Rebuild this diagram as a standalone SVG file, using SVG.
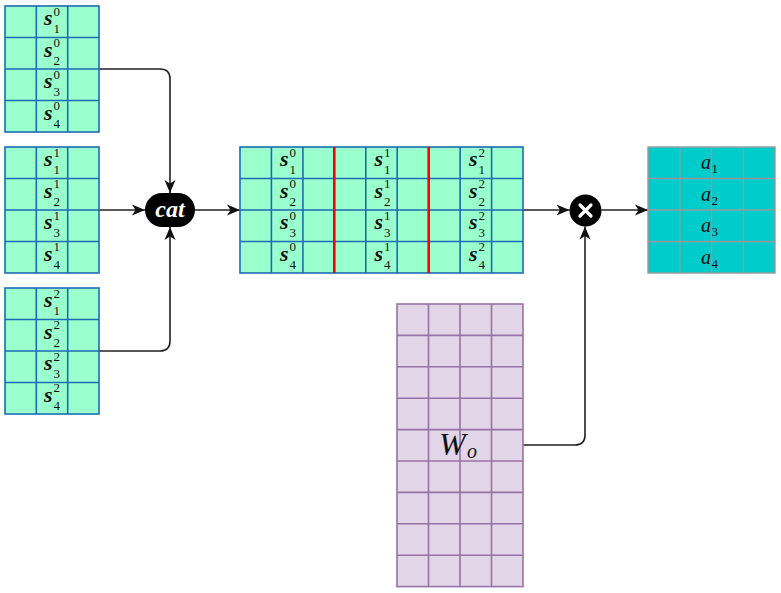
<svg xmlns="http://www.w3.org/2000/svg" width="781" height="593" viewBox="0 0 781 593">
<style>
.gm{fill:#99FFCC;stroke:#1C6BB4;stroke-width:1.6}
.gl{fill:none;stroke:#1C6BB4;stroke-width:1.6}
.s{font-family:"Liberation Serif",serif;font-style:italic;font-weight:bold;font-size:22px;fill:#111}
.sc{font-style:normal;font-weight:normal;font-size:13px}
.a{font-family:"Liberation Serif",serif;font-style:italic;font-size:20px;fill:#111}
.ac{font-style:normal;font-size:13px}
.cm{fill:#00CCCC;stroke:#999999;stroke-width:1.4}
.cl{fill:none;stroke:#999999;stroke-width:1.4}
.pm{fill:#E1D5E7;stroke:#9673A6;stroke-width:1.6}
.pl{fill:none;stroke:#9673A6;stroke-width:1.6}
.red{stroke:#FF0000;stroke-width:2.6}
.edge{fill:none;stroke:#222;stroke-width:1.6}
</style>
<defs>
<marker id="arr" markerUnits="userSpaceOnUse" markerWidth="14" markerHeight="12" refX="13" refY="6" orient="auto">
<path d="M0,0.5 L13,6 L0,11.5 L3.5,6 Z" fill="#111"/>
</marker>
</defs>

<g id="connectors">
<path class="edge" marker-end="url(#arr)" d="M99,69 H160 Q170,69 170,79 V193"/>
<path class="edge" marker-end="url(#arr)" d="M99,210 H145"/>
<path class="edge" marker-end="url(#arr)" d="M99,351 H160 Q170,351 170,341 V227"/>
<path class="edge" marker-end="url(#arr)" d="M195,210 H240"/>
<path class="edge" marker-end="url(#arr)" d="M523,210 H569.5"/>
<path class="edge" marker-end="url(#arr)" d="M523,445 H575 Q585,445 585,435 V226.5"/>
<path class="edge" marker-end="url(#arr)" d="M601.5,210 H648"/>
</g>

<g id="s0">
<rect class="gm" x="5" y="6" width="94" height="126"/>
<path class="gl" d="M36.3,6V132M67.7,6V132M5,37.5H99M5,69H99M5,100.5H99"/>
<text class="s"><tspan x="44" y="25">s</tspan><tspan class="sc" x="53.5" y="15.5">0</tspan><tspan class="sc" x="53.5" y="33">1</tspan></text>
<text class="s"><tspan x="44" y="56.5">s</tspan><tspan class="sc" x="53.5" y="47">0</tspan><tspan class="sc" x="53.5" y="64.5">2</tspan></text>
<text class="s"><tspan x="44" y="88">s</tspan><tspan class="sc" x="53.5" y="78.5">0</tspan><tspan class="sc" x="53.5" y="96">3</tspan></text>
<text class="s"><tspan x="44" y="119.5">s</tspan><tspan class="sc" x="53.5" y="110">0</tspan><tspan class="sc" x="53.5" y="127.5">4</tspan></text>
</g>

<g id="s1">
<rect class="gm" x="5" y="147" width="94" height="126"/>
<path class="gl" d="M36.3,147V273M67.7,147V273M5,178.5H99M5,210H99M5,241.5H99"/>
<text class="s"><tspan x="44" y="166">s</tspan><tspan class="sc" x="53.5" y="156.5">1</tspan><tspan class="sc" x="53.5" y="174">1</tspan></text>
<text class="s"><tspan x="44" y="197.5">s</tspan><tspan class="sc" x="53.5" y="188">1</tspan><tspan class="sc" x="53.5" y="205.5">2</tspan></text>
<text class="s"><tspan x="44" y="229">s</tspan><tspan class="sc" x="53.5" y="219.5">1</tspan><tspan class="sc" x="53.5" y="237">3</tspan></text>
<text class="s"><tspan x="44" y="260.5">s</tspan><tspan class="sc" x="53.5" y="251">1</tspan><tspan class="sc" x="53.5" y="268.5">4</tspan></text>
</g>

<g id="s2">
<rect class="gm" x="5" y="288" width="94" height="126"/>
<path class="gl" d="M36.3,288V414M67.7,288V414M5,319.5H99M5,351H99M5,382.5H99"/>
<text class="s"><tspan x="44" y="307">s</tspan><tspan class="sc" x="53.5" y="297.5">2</tspan><tspan class="sc" x="53.5" y="315">1</tspan></text>
<text class="s"><tspan x="44" y="338.5">s</tspan><tspan class="sc" x="53.5" y="329">2</tspan><tspan class="sc" x="53.5" y="346.5">2</tspan></text>
<text class="s"><tspan x="44" y="370">s</tspan><tspan class="sc" x="53.5" y="360.5">2</tspan><tspan class="sc" x="53.5" y="378">3</tspan></text>
<text class="s"><tspan x="44" y="401.5">s</tspan><tspan class="sc" x="53.5" y="392">2</tspan><tspan class="sc" x="53.5" y="409.5">4</tspan></text>
</g>

<g id="cat">
<rect x="145" y="193" width="50" height="34" rx="17" ry="17" fill="#000"/>
<text x="170" y="216.5" text-anchor="middle" font-family="Liberation Serif, serif" font-style="italic" font-weight="bold" font-size="24" fill="#fff">cat</text>
</g>

<g id="concat">
<rect class="gm" x="240" y="147" width="283" height="126"/>
<path class="gl" d="M271.4,147V273M302.9,147V273M365.8,147V273M397.2,147V273M460.1,147V273M491.6,147V273M240,178.5H523M240,210H523M240,241.5H523"/>
<path class="red" d="M334.3,147V273M428.7,147V273"/>
<text class="s"><tspan x="280" y="166">s</tspan><tspan class="sc" x="289.5" y="156.5">0</tspan><tspan class="sc" x="289.5" y="174">1</tspan></text>
<text class="s"><tspan x="280" y="197.5">s</tspan><tspan class="sc" x="289.5" y="188">0</tspan><tspan class="sc" x="289.5" y="205.5">2</tspan></text>
<text class="s"><tspan x="280" y="229">s</tspan><tspan class="sc" x="289.5" y="219.5">0</tspan><tspan class="sc" x="289.5" y="237">3</tspan></text>
<text class="s"><tspan x="280" y="260.5">s</tspan><tspan class="sc" x="289.5" y="251">0</tspan><tspan class="sc" x="289.5" y="268.5">4</tspan></text>
<text class="s"><tspan x="374.5" y="166">s</tspan><tspan class="sc" x="384" y="156.5">1</tspan><tspan class="sc" x="384" y="174">1</tspan></text>
<text class="s"><tspan x="374.5" y="197.5">s</tspan><tspan class="sc" x="384" y="188">1</tspan><tspan class="sc" x="384" y="205.5">2</tspan></text>
<text class="s"><tspan x="374.5" y="229">s</tspan><tspan class="sc" x="384" y="219.5">1</tspan><tspan class="sc" x="384" y="237">3</tspan></text>
<text class="s"><tspan x="374.5" y="260.5">s</tspan><tspan class="sc" x="384" y="251">1</tspan><tspan class="sc" x="384" y="268.5">4</tspan></text>
<text class="s"><tspan x="469" y="166">s</tspan><tspan class="sc" x="478.5" y="156.5">2</tspan><tspan class="sc" x="478.5" y="174">1</tspan></text>
<text class="s"><tspan x="469" y="197.5">s</tspan><tspan class="sc" x="478.5" y="188">2</tspan><tspan class="sc" x="478.5" y="205.5">2</tspan></text>
<text class="s"><tspan x="469" y="229">s</tspan><tspan class="sc" x="478.5" y="219.5">2</tspan><tspan class="sc" x="478.5" y="237">3</tspan></text>
<text class="s"><tspan x="469" y="260.5">s</tspan><tspan class="sc" x="478.5" y="251">2</tspan><tspan class="sc" x="478.5" y="268.5">4</tspan></text>
</g>

<g id="mult">
<circle cx="585.5" cy="210.5" r="16" fill="#000"/>
<path d="M580,205L591,216M591,205L580,216" stroke="#fff" stroke-width="3.2" stroke-linecap="round"/>
</g>

<g id="out">
<rect class="cm" x="648" y="147" width="127" height="126"/>
<path class="cl" d="M679.8,147V273M711.5,147V273M743.3,147V273M648,178.5H775M648,210H775M648,241.5H775"/>
<text class="a"><tspan x="701" y="169">a</tspan><tspan class="ac" x="711.5" y="173">1</tspan></text>
<text class="a"><tspan x="701" y="200.5">a</tspan><tspan class="ac" x="711.5" y="204.5">2</tspan></text>
<text class="a"><tspan x="701" y="232">a</tspan><tspan class="ac" x="711.5" y="236">3</tspan></text>
<text class="a"><tspan x="701" y="263.5">a</tspan><tspan class="ac" x="711.5" y="267.5">4</tspan></text>
</g>

<g id="wo">
<rect class="pm" x="397" y="304" width="126" height="282.6"/>
<path class="pl" d="M428.5,304V586.6M460,304V586.6M491.5,304V586.6M397,335.4H523M397,366.8H523M397,398.2H523M397,429.6H523M397,461H523M397,492.4H523M397,523.8H523M397,555.2H523"/>
<text font-family="Liberation Serif, serif" font-style="italic" font-size="32" fill="#111"><tspan x="439" y="455">W</tspan><tspan x="467" y="458" font-size="20">o</tspan></text>
</g>
</svg>
